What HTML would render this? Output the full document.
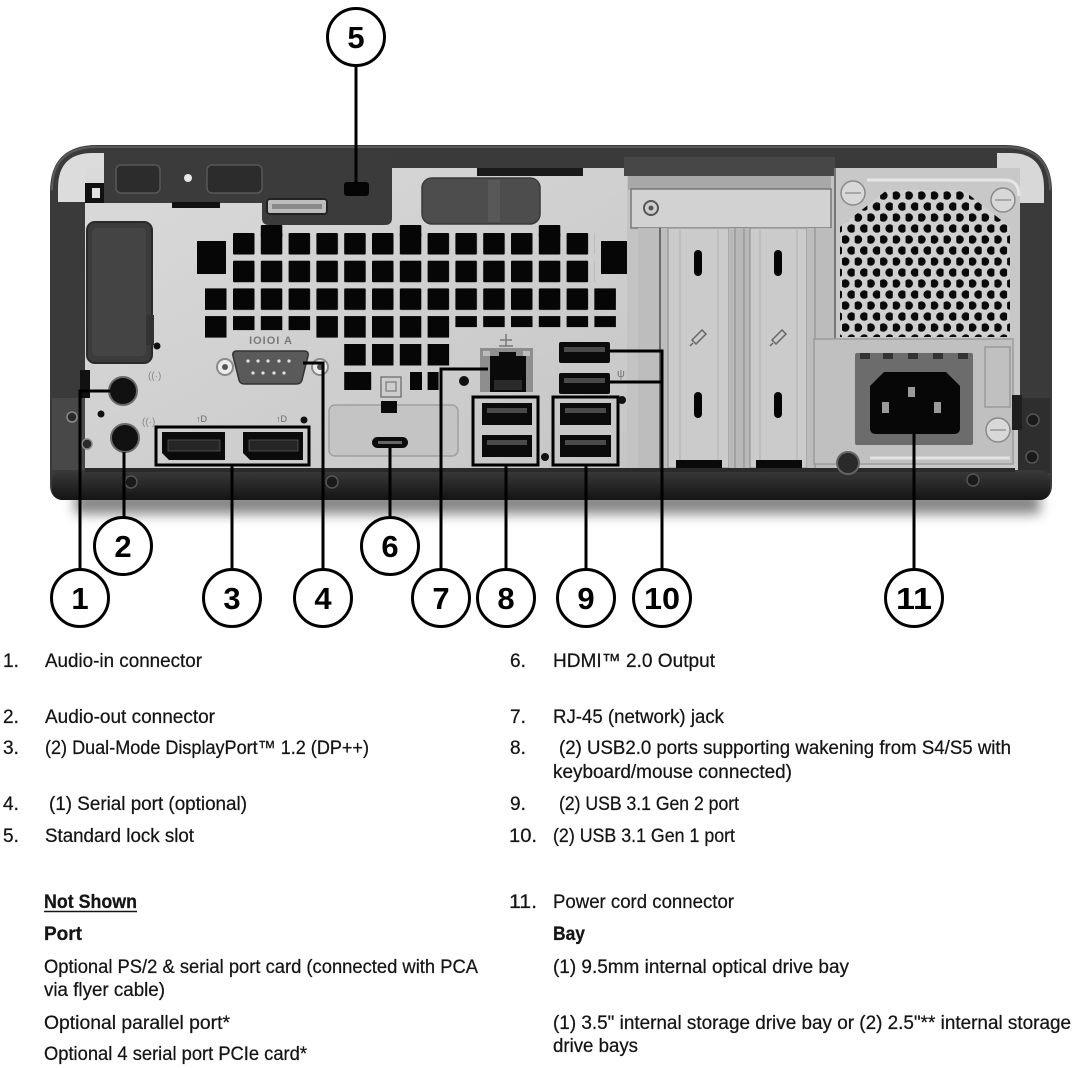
<!DOCTYPE html>
<html><head><meta charset="utf-8">
<style>
html,body{margin:0;padding:0;background:#fff;}
svg{display:block;}
text{font-family:"Liberation Sans",Arial,sans-serif;}
</style></head><body>
<svg width="1076" height="1068" viewBox="0 0 1076 1068" xmlns="http://www.w3.org/2000/svg">
<defs>
 <pattern id="vent" patternUnits="userSpaceOnUse" x="233" y="233" width="27.8" height="27.7"><rect x="0" y="0" width="21.5" height="21.5" rx="1" fill="#060606"/></pattern>
 <pattern id="hex" patternUnits="userSpaceOnUse" x="842" y="190" width="12.7" height="22"><circle cx="3.2" cy="5.5" r="4.3" fill="#0a0a0a"/><circle cx="9.55" cy="16.5" r="4.3" fill="#0a0a0a"/></pattern>
 <linearGradient id="band" x1="0" y1="0" x2="0" y2="1"><stop offset="0" stop-color="#3a3a3a"/><stop offset="1" stop-color="#141414"/></linearGradient>
 <linearGradient id="panel" x1="0" y1="0" x2="1" y2="1"><stop offset="0" stop-color="#dadada"/><stop offset="1" stop-color="#c6c6c6"/></linearGradient>
 <filter id="blur" x="-10%" y="-100%" width="120%" height="300%"><feGaussianBlur stdDeviation="6"/></filter>
 <clipPath id="hexclip"><polygon points="840,227 887,190 963,190 1010,227 1010,337 840,337"/></clipPath>
</defs>

<rect width="1076" height="1068" fill="#fff"/>

<!-- shadow -->
<rect x="75" y="492" width="965" height="22" fill="#666" filter="url(#blur)" opacity="0.8"/>

<!-- chassis body -->
<path d="M50,192 Q50,145 97,145 L1005,145 Q1052,145 1052,192 L1052,485 Q1052,500 1037,500 L65,500 Q50,500 50,485 Z" fill="#3a3a3a"/>
<path d="M52,190 Q52,147 97,147 L1005,147 Q1050,147 1050,190" fill="none" stroke="#5a5a5a" stroke-width="2"/>
<!-- light inner corners -->
<path d="M58,202 L58,188 Q58,153 93,153 L104,153 L104,202 Z" fill="#dcdcdc"/>
<path d="M997,153 L1010,153 Q1044,153 1044,188 L1044,203 L997,203 Z" fill="#d8d8d8"/>

<!-- left light panel -->
<rect x="85" y="168" width="542" height="303" fill="url(#panel)"/>
<!-- dark top-left region -->
<path d="M104,150 L392,150 L392,218 Q392,225 385,225 L269,225 Q262,225 262,218 L262,203 L104,203 Z" fill="#3b3b3b"/>
<rect x="85" y="183" width="19" height="20" fill="#111"/>
<rect x="92" y="188" width="8" height="10" fill="#e0e0e0"/>
<rect x="116" y="165" width="44" height="28" rx="5" fill="#2c2c2c" stroke="#575757" stroke-width="1.5"/>
<rect x="207" y="165" width="55" height="28" rx="5" fill="#2c2c2c" stroke="#575757" stroke-width="1.5"/>
<circle cx="188" cy="178" r="4" fill="#e8e8e8"/>
<rect x="172" y="202" width="48" height="6" fill="#111"/>
<rect x="344" y="182" width="25" height="14" rx="3" fill="#050505"/>
<rect x="267" y="199" width="60" height="15" rx="3" fill="#bdbdbd" stroke="#222" stroke-width="2"/>
<rect x="272" y="204" width="50" height="5" fill="#8a8a8a"/>
<!-- dark strip -->
<rect x="477" y="168" width="106" height="8" fill="#1a1a1a"/>
<!-- handle -->
<rect x="422" y="178" width="118" height="46" rx="10" fill="#4d4d4d" stroke="#3a3a3a" stroke-width="1.5"/>
<rect x="488" y="180" width="12" height="42" fill="#585858"/>

<!-- left dark block -->
<rect x="87" y="222" width="65" height="141" rx="8" fill="#3b3b3b" stroke="#2a2a2a" stroke-width="2"/>
<rect x="92" y="228" width="54" height="128" rx="5" fill="#444"/>
<rect x="146" y="315" width="8" height="30" fill="#333"/>
<circle cx="157" cy="346" r="3.5" fill="#111"/>
<!-- left lower bracket -->
<rect x="52" y="398" width="33" height="72" fill="#484848"/>
<circle cx="72" cy="417" r="5" fill="#2a2a2a" stroke="#8a8a8a" stroke-width="1.5"/>
<circle cx="87" cy="444" r="5" fill="#2a2a2a" stroke="#8a8a8a" stroke-width="1.5"/>
<rect x="80" y="370" width="10" height="28" fill="#111"/>

<!-- vents -->
<rect x="233" y="233" width="361.4" height="83.1" fill="url(#vent)"/>
<g fill="#060606">
 <rect x="260.8" y="225" width="21.5" height="12" rx="1"/>
 <rect x="399.8" y="225" width="21.5" height="12" rx="1"/>
 <rect x="538.8" y="225" width="21.5" height="12" rx="1"/>
 <rect x="205" y="288.4" width="21.5" height="21.5"/>
 <rect x="594.4" y="288.4" width="21.5" height="21.5"/>
 <rect x="205" y="316.1" width="21.5" height="21.5"/>
 <rect x="233" y="316.1" width="21.5" height="14"/>
 <rect x="260.8" y="316.1" width="21.5" height="14"/>
 <rect x="288.6" y="316.1" width="21.5" height="14"/>
 <rect x="316.4" y="316.1" width="21.5" height="21.5"/>
 <rect x="344.2" y="316.1" width="21.5" height="21.5"/>
 <rect x="372" y="316.1" width="21.5" height="21.5"/>
 <rect x="399.8" y="316.1" width="21.5" height="21.5"/>
 <rect x="427.6" y="316.1" width="21.5" height="21.5"/>
 <rect x="455.4" y="316.1" width="21.5" height="11"/>
 <rect x="483.2" y="316.1" width="21.5" height="11"/>
 <rect x="511" y="316.1" width="21.5" height="11"/>
 <rect x="538.8" y="316.1" width="21.5" height="11"/>
 <rect x="566.6" y="316.1" width="21.5" height="11"/>
 <rect x="594.4" y="316.1" width="21.5" height="11"/>
 <rect x="344.2" y="344" width="21.5" height="21.5"/>
 <rect x="372" y="344" width="21.5" height="21.5"/>
 <rect x="399.8" y="344" width="21.5" height="21.5"/>
 <rect x="427.6" y="344" width="21.5" height="21.5"/>
 <rect x="344.2" y="372" width="27" height="18"/>
 <rect x="410" y="372" width="12" height="18"/>
 <rect x="427.6" y="372" width="11" height="18"/>
 <rect x="197" y="241" width="29" height="33"/>
 <rect x="601" y="241" width="29" height="33"/>
</g>

<!-- serial port -->
<text x="271" y="344" font-size="11" font-weight="bold" fill="#7a7a7a" text-anchor="middle" letter-spacing="1">IOIOI A</text>
<circle cx="225" cy="367" r="8" fill="#ececec" stroke="#8a8a8a" stroke-width="2"/>
<circle cx="225" cy="367" r="3" fill="#555"/>
<circle cx="320" cy="367" r="8" fill="#ececec" stroke="#8a8a8a" stroke-width="2"/>
<circle cx="320" cy="367" r="3" fill="#555"/>
<path d="M237,351 L304,351 Q309,351 308,356 L302,380 Q301,384 296,384 L245,384 Q240,384 239,380 L233,356 Q232,351 237,351 Z" fill="#5a5a5a" stroke="#333" stroke-width="1.5"/>
<g fill="#e2e2e2">
 <circle cx="248" cy="361" r="1.6"/><circle cx="258" cy="361" r="1.6"/><circle cx="268" cy="361" r="1.6"/><circle cx="279" cy="361" r="1.6"/><circle cx="289" cy="361" r="1.6"/>
 <circle cx="253" cy="373" r="1.6"/><circle cx="263" cy="373" r="1.6"/><circle cx="274" cy="373" r="1.6"/><circle cx="284" cy="373" r="1.6"/>
</g>

<!-- audio jacks -->
<circle cx="123" cy="391" r="14" fill="#111" stroke="#6a6a6a" stroke-width="2"/>
<circle cx="125" cy="438" r="14" fill="#111" stroke="#6a6a6a" stroke-width="2"/>
<text x="148" y="379" font-size="10" fill="#888">((·)</text>
<text x="142" y="425" font-size="10" fill="#888">((·)</text>
<circle cx="101" cy="414" r="3.5" fill="#111"/>

<!-- DP ports -->
<text x="196" y="422" font-size="9" fill="#666">↑D</text>
<text x="276" y="422" font-size="9" fill="#666">↑D</text>
<circle cx="304" cy="420" r="3.5" fill="#111"/>
<path d="M162,432 L225,432 L225,460 L169,460 L162,453 Z" fill="#0b0b0b"/>
<rect x="168" y="440" width="52" height="11" fill="#262626" stroke="#555" stroke-width="0.8"/>
<path d="M243,432 L303,432 L303,460 L250,460 L243,453 Z" fill="#0b0b0b"/>
<rect x="249" y="440" width="49" height="11" fill="#262626" stroke="#555" stroke-width="0.8"/>
<rect x="156" y="427" width="153" height="38" fill="none" stroke="#000" stroke-width="3"/>

<!-- HDMI / type-c plate -->
<rect x="329" y="405" width="129" height="51" rx="6" fill="#c4c4c4" stroke="#a0a0a0" stroke-width="1.5"/>
<rect x="381" y="377" width="20" height="20" fill="none" stroke="#7a7a7a" stroke-width="1.5"/>
<rect x="386" y="382" width="10" height="9" fill="none" stroke="#7a7a7a" stroke-width="1.2"/>
<rect x="381" y="401" width="16" height="12" fill="#0b0b0b"/>
<rect x="372" y="437" width="36" height="11" rx="5.5" fill="#0b0b0b"/>
<rect x="378" y="441" width="24" height="3" fill="#666"/>

<!-- RJ45 -->
<path d="M500,340 L512,340 M506,334 L506,346 M499,346 L513,346" stroke="#777" stroke-width="1.5"/>
<rect x="480" y="348" width="53" height="44" fill="#8e8e8e"/>
<rect x="483" y="351" width="7" height="5" fill="#bdbdbd"/>
<rect x="523" y="351" width="7" height="5" fill="#bdbdbd"/>
<path d="M490,356 L499,356 L499,352 L516,352 L516,356 L526,356 L526,392 L490,392 Z" fill="#0a0a0a"/>
<rect x="494" y="380" width="28" height="10" fill="#2a2a2a"/>
<circle cx="464" cy="381" r="5" fill="#111"/>

<!-- USB 10 -->
<rect x="559" y="342" width="51" height="21" rx="2" fill="#0b0b0b"/>
<rect x="564" y="347" width="41" height="5" fill="#4a4a4a"/>
<rect x="559" y="373" width="51" height="21" rx="2" fill="#0b0b0b"/>
<rect x="564" y="378" width="41" height="5" fill="#4a4a4a"/>
<text x="617" y="377" font-size="11" fill="#777">ψ</text>
<!-- USB 8 -->
<rect x="482" y="403" width="50" height="22" fill="#0b0b0b"/>
<rect x="487" y="408" width="40" height="5" fill="#4a4a4a"/>
<rect x="482" y="435" width="50" height="22" fill="#0b0b0b"/>
<rect x="487" y="440" width="40" height="5" fill="#4a4a4a"/>
<rect x="473" y="397" width="65" height="68" fill="none" stroke="#000" stroke-width="3"/>
<!-- USB 9 -->
<rect x="560" y="403" width="51" height="22" fill="#0b0b0b"/>
<rect x="565" y="408" width="41" height="5" fill="#4a4a4a"/>
<rect x="560" y="435" width="51" height="22" fill="#0b0b0b"/>
<rect x="565" y="440" width="41" height="5" fill="#4a4a4a"/>
<rect x="553" y="397" width="65" height="68" fill="none" stroke="#000" stroke-width="3"/>
<circle cx="545" cy="457" r="4" fill="#111"/>
<circle cx="622" cy="400" r="4" fill="#111"/>

<!-- PCIe area -->
<rect x="627" y="160" width="208" height="311" fill="#c3c3c3"/>
<rect x="624" y="157" width="211" height="19" fill="#474747"/>
<rect x="628" y="176" width="203" height="14" fill="#a8a8a8"/>
<rect x="631" y="189" width="200" height="39" fill="#d2d2d2" stroke="#777" stroke-width="1.5"/>
<circle cx="651" cy="208" r="7" fill="#cfcfcf" stroke="#555" stroke-width="2"/>
<circle cx="651" cy="208" r="2.5" fill="#555"/>
<rect x="638" y="228" width="30" height="243" fill="#bdbdbd"/>
<line x1="660" y1="228" x2="660" y2="468" stroke="#6a6a6a" stroke-width="2"/>
<rect x="668" y="228" width="61" height="240" fill="#cbcbcb" stroke="#8a8a8a" stroke-width="1"/>
<line x1="680" y1="230" x2="680" y2="460" stroke="#b0b0b0" stroke-width="1"/>
<line x1="718" y1="230" x2="718" y2="460" stroke="#b0b0b0" stroke-width="1"/>
<rect x="694" y="250" width="8" height="26" rx="4" fill="#050505"/>
<rect x="694" y="392" width="8" height="26" rx="4" fill="#050505"/>
<path d="M692,340 L702,330 L706,334 L696,344 Z M690,346 L693,343" fill="none" stroke="#666" stroke-width="1.5"/>
<rect x="676" y="460" width="46" height="8" fill="#0a0a0a"/>
<rect x="729" y="228" width="21" height="243" fill="#b8b8b8"/>
<line x1="735" y1="228" x2="735" y2="468" stroke="#8a8a8a" stroke-width="1"/>
<line x1="744" y1="228" x2="744" y2="468" stroke="#8a8a8a" stroke-width="1"/>
<rect x="750" y="228" width="57" height="240" fill="#cbcbcb" stroke="#8a8a8a" stroke-width="1"/>
<line x1="760" y1="230" x2="760" y2="460" stroke="#b0b0b0" stroke-width="1"/>
<line x1="797" y1="230" x2="797" y2="460" stroke="#b0b0b0" stroke-width="1"/>
<rect x="774" y="250" width="8" height="26" rx="4" fill="#050505"/>
<rect x="774" y="392" width="8" height="26" rx="4" fill="#050505"/>
<path d="M772,340 L782,330 L786,334 L776,344 Z M770,346 L773,343" fill="none" stroke="#666" stroke-width="1.5"/>
<rect x="756" y="460" width="46" height="8" fill="#0a0a0a"/>
<rect x="807" y="228" width="28" height="243" fill="#bcbcbc"/>
<line x1="815" y1="228" x2="815" y2="468" stroke="#8a8a8a" stroke-width="1"/>

<!-- PSU -->
<rect x="835" y="168" width="185" height="303" fill="#c8c8c8"/>
<line x1="835" y1="168" x2="835" y2="340" stroke="#777" stroke-width="2"/>
<path d="M867,180 L1005,180 Q1019,180 1019,196" fill="none" stroke="#e6e6e6" stroke-width="3"/>
<rect x="840" y="190" width="170" height="147" fill="#d0d0d0" clip-path="url(#hexclip)"/>
<rect x="840" y="190" width="170" height="147" fill="url(#hex)" clip-path="url(#hexclip)"/>
<rect x="814" y="339" width="199" height="125" fill="#c0c0c0" stroke="#9c9c9c" stroke-width="1.5"/>
<line x1="870" y1="458" x2="1010" y2="458" stroke="#e2e2e2" stroke-width="3"/>
<rect x="985" y="347" width="25" height="60" fill="none" stroke="#9a9a9a" stroke-width="1.5"/>
<rect x="855" y="353" width="118" height="92" rx="2" fill="#6c6c6c"/>
<g fill="#333"><rect x="860" y="353" width="10" height="6"/><rect x="883" y="353" width="10" height="6"/><rect x="908" y="353" width="10" height="6"/><rect x="933" y="353" width="10" height="6"/><rect x="958" y="353" width="10" height="6"/></g>
<path d="M884,372 L946,372 L960,386 L960,428 Q960,434 954,434 L876,434 Q870,434 870,428 L870,386 Z" fill="#070707"/>
<rect x="882" y="402" width="7" height="11" fill="#9a9a9a"/>
<rect x="908" y="387" width="7" height="10" fill="#9a9a9a"/>
<rect x="934" y="402" width="7" height="11" fill="#9a9a9a"/>
<g stroke="#8a8a8a" stroke-width="1.5" fill="#d8d8d8">
 <circle cx="853" cy="193" r="12"/><circle cx="1003" cy="200" r="12"/><circle cx="998" cy="430" r="12"/>
</g>
<g stroke="#888" stroke-width="1.2"><line x1="845" y1="193" x2="861" y2="193"/><line x1="995" y1="200" x2="1011" y2="200"/><line x1="990" y1="430" x2="1006" y2="430"/></g>
<!-- right frame bracket -->
<rect x="1018" y="398" width="32" height="75" fill="#2e2e2e"/>
<rect x="1012" y="395" width="10" height="35" fill="#1e1e1e"/>

<!-- bottom band -->
<rect x="52" y="470" width="998" height="30" rx="10" fill="url(#band)"/>
<rect x="85" y="468" width="930" height="4" fill="#2a2a2a"/>
<circle cx="848" cy="463" r="11" fill="#2a2a2a" stroke="#666" stroke-width="2"/>
<g fill="#1a1a1a" stroke="#555" stroke-width="1.5">
 <circle cx="131" cy="482" r="6"/><circle cx="332" cy="482" r="6"/><circle cx="973" cy="480" r="6"/>
 <circle cx="1033" cy="420" r="6"/><circle cx="1032" cy="457" r="6"/>
</g>

<!-- leader lines -->
<g stroke="#000" stroke-width="3" fill="none">
 <path d="M80,569 L80,391 L110,391"/>
 <path d="M124,517 L124,452"/>
 <path d="M232,569 L232,465"/>
 <path d="M323,569 L323,363 L303,363"/>
 <path d="M356,66 L356,183"/>
 <path d="M390,517 L390,448"/>
 <path d="M441,569 L441,369 L488,369"/>
 <path d="M506,569 L506,465"/>
 <path d="M586,569 L586,465"/>
 <path d="M662,569 L662,351 L610,351 M662,382 L610,382"/>
 <path d="M914,569 L914,434"/>
</g>

<!-- callout circles -->
<g stroke="#000" stroke-width="3" fill="#fff">
 <circle cx="80" cy="598" r="28.5"/>
 <circle cx="123" cy="546" r="28.5"/>
 <circle cx="232" cy="598" r="28.5"/>
 <circle cx="323" cy="598" r="28.5"/>
 <circle cx="356" cy="37" r="28.5"/>
 <circle cx="390" cy="546" r="28.5"/>
 <circle cx="441" cy="598" r="28.5"/>
 <circle cx="506" cy="598" r="28.5"/>
 <circle cx="586" cy="598" r="28.5"/>
 <circle cx="662" cy="598" r="28.5"/>
 <circle cx="914" cy="598" r="28.5"/>
</g>
<g font-size="31" font-weight="bold" fill="#000" text-anchor="middle">
 <text x="80" y="609">1</text>
 <text x="123" y="557">2</text>
 <text x="232" y="609">3</text>
 <text x="323" y="609">4</text>
 <text x="356" y="48">5</text>
 <text x="390" y="557">6</text>
 <text x="441" y="609">7</text>
 <text x="506" y="609">8</text>
 <text x="586" y="609">9</text>
 <text x="662" y="609" textLength="36" lengthAdjust="spacingAndGlyphs">10</text>
 <text x="914" y="609" textLength="36" lengthAdjust="spacingAndGlyphs">11</text>
</g>

<!-- text list left -->
<g font-size="19" fill="#151515" stroke="#151515" stroke-width="0.25">
 <text x="3" y="667">1.</text>
 <text x="45" y="667" textLength="157" lengthAdjust="spacingAndGlyphs">Audio-in connector</text>
 <text x="3" y="723">2.</text>
 <text x="45" y="723" textLength="170" lengthAdjust="spacingAndGlyphs">Audio-out connector</text>
 <text x="3" y="754">3.</text>
 <text x="45" y="754" textLength="324" lengthAdjust="spacingAndGlyphs">(2) Dual-Mode DisplayPort™ 1.2 (DP++)</text>
 <text x="3" y="810">4.</text>
 <text x="49" y="810" textLength="198" lengthAdjust="spacingAndGlyphs">(1) Serial port (optional)</text>
 <text x="3" y="842">5.</text>
 <text x="45" y="842" textLength="149" lengthAdjust="spacingAndGlyphs">Standard lock slot</text>
 <text x="44" y="908" font-weight="bold" textLength="93" lengthAdjust="spacingAndGlyphs">Not Shown</text>
 <text x="44" y="940" font-weight="bold" textLength="38" lengthAdjust="spacingAndGlyphs">Port</text>
 <text x="44" y="973" textLength="434" lengthAdjust="spacingAndGlyphs">Optional PS/2 &amp; serial port card (connected with PCA</text>
 <text x="44" y="996" textLength="121" lengthAdjust="spacingAndGlyphs">via flyer cable)</text>
 <text x="44" y="1029" textLength="186" lengthAdjust="spacingAndGlyphs">Optional parallel port*</text>
 <text x="44" y="1060" textLength="263" lengthAdjust="spacingAndGlyphs">Optional 4 serial port PCIe card*</text>
</g>
<line x1="44" y1="911.5" x2="137" y2="911.5" stroke="#151515" stroke-width="1.6"/>

<!-- text list right -->
<g font-size="19" fill="#151515" stroke="#151515" stroke-width="0.25">
 <text x="510" y="667">6.</text>
 <text x="553" y="667" textLength="162" lengthAdjust="spacingAndGlyphs">HDMI™  2.0  Output</text>
 <text x="510" y="723">7.</text>
 <text x="553" y="723" textLength="171" lengthAdjust="spacingAndGlyphs">RJ-45 (network) jack</text>
 <text x="510" y="754">8.</text>
 <text x="559" y="754" textLength="452" lengthAdjust="spacingAndGlyphs">(2) USB2.0 ports supporting wakening from S4/S5 with</text>
 <text x="553" y="778" textLength="239" lengthAdjust="spacingAndGlyphs">keyboard/mouse connected)</text>
 <text x="510" y="810">9.</text>
 <text x="559" y="810" textLength="180" lengthAdjust="spacingAndGlyphs">(2) USB 3.1 Gen 2 port</text>
 <text x="509" y="842" textLength="28" lengthAdjust="spacingAndGlyphs">10.</text>
 <text x="553" y="842" textLength="182" lengthAdjust="spacingAndGlyphs">(2) USB 3.1 Gen 1 port</text>
 <text x="509" y="908" textLength="28" lengthAdjust="spacingAndGlyphs">11.</text>
 <text x="553" y="908" textLength="181" lengthAdjust="spacingAndGlyphs">Power cord connector</text>
 <text x="553" y="940" font-weight="bold" textLength="32" lengthAdjust="spacingAndGlyphs">Bay</text>
 <text x="553" y="973" textLength="296" lengthAdjust="spacingAndGlyphs">(1) 9.5mm internal optical drive bay</text>
 <text x="553" y="1029" textLength="518" lengthAdjust="spacingAndGlyphs">(1) 3.5" internal storage drive bay or (2) 2.5"** internal storage</text>
 <text x="553" y="1052" textLength="85" lengthAdjust="spacingAndGlyphs">drive bays</text>
</g>
</svg>
</body></html>
